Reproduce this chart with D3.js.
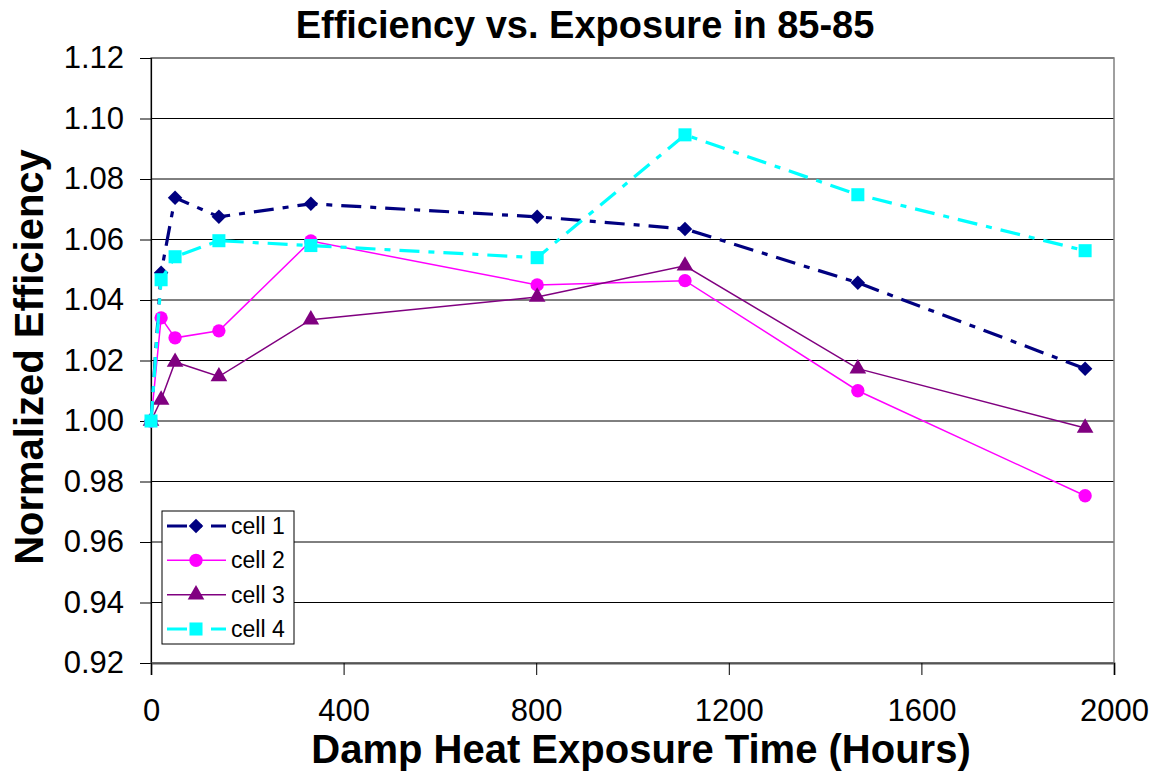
<!DOCTYPE html>
<html>
<head>
<meta charset="utf-8">
<script src="https://cdn.jsdelivr.net/npm/d3@7"></script>
<style>
  body { margin: 0; background: #fff; }
  text { font-family: "Liberation Sans", Arial, sans-serif; }
</style>
</head>
<body>
<div id="chart"></div>
<script>
// data
var hours = [0, 21, 50, 141, 332, 802, 1109, 1468, 1940];
var cell1 = [1.000, 1.049, 1.0738, 1.0675, 1.0718, 1.0675, 1.0635, 1.0457, 1.0173];
var cell2 = [1.000, 1.0341, 1.0275, 1.0298, 1.0595, 1.0450, 1.0464, 1.0100, 0.9753];
var cell3 = [1.000, 1.0070, 1.0195, 1.0147, 1.0335, 1.0410, 1.0513, 1.0173, 0.9977];
var cell4 = [1.000, 1.0467, 1.0543, 1.0596, 1.0580, 1.0540, 1.0946, 1.0748, 1.0563];
var seriesNames = ["cell 1", "cell 2", "cell 3", "cell 4"];
var yTicks = [0.92, 0.94, 0.96, 0.98, 1.00, 1.02, 1.04, 1.06, 1.08, 1.10, 1.12];
var xTicks = [0, 400, 800, 1200, 1600, 2000];

var width = 1159, height = 772;
var plotLeft = 151, plotRight = 1114, plotTop = 58, plotBottom = 663;

var svg = d3.select("#chart").append("svg")
  .attr("width", width)
  .attr("height", height);

var x = d3.scaleLinear().domain([0, 2000]).range([plotLeft, plotRight]);
var y = d3.scaleLinear().domain([0.92, 1.12]).range([plotBottom, plotTop]);

// gridlines
svg.append("g").selectAll("line")
  .data(yTicks)
  .enter().append("line")
  .attr("x1", plotLeft).attr("x2", plotRight)
  .attr("y1", function (d) { return y(d); })
  .attr("y2", function (d) { return y(d); })
  .attr("stroke", "#000")
  .attr("stroke-width", 1);

// plot border (grey)
svg.append("rect")
  .attr("x", plotLeft).attr("y", plotTop)
  .attr("width", plotRight - plotLeft).attr("height", plotBottom - plotTop)
  .attr("fill", "none")
  .attr("stroke", "#808080")
  .attr("stroke-width", 1.5);

// axes
var yAxis = d3.axisLeft(y).tickValues(yTicks).tickSize(11).tickPadding(16)
  .tickFormat(d3.format(".2f"));
var xAxis = d3.axisBottom(x).tickValues(xTicks).tickSize(12).tickPadding(24)
  .tickFormat(d3.format("d"));

var gy = svg.append("g").attr("transform", "translate(" + plotLeft + ",0)").call(yAxis);
var gx = svg.append("g").attr("transform", "translate(0," + plotBottom + ")").call(xAxis);
[gy, gx].forEach(function (g) {
  g.select(".domain").attr("stroke", "#000").attr("stroke-width", 1.2);
  g.selectAll(".tick line").attr("stroke", "#000");
  g.selectAll(".tick text")
    .attr("font-size", 31)
    .attr("fill", "#000")
    .style("font-family", "'Liberation Sans', Arial, sans-serif");
});
gx.select(".domain").attr("stroke", "#555").attr("stroke-width", 2);

// series (diamond = square turned 45deg)
var series = [
  { name: seriesNames[0], vals: cell1, color: "#000080", width: 3.2, dash: "20,9,6,9", sym: d3.symbolSquare, size: 105, rot: 45 },
  { name: seriesNames[1], vals: cell2, color: "#FF00FF", width: 1.5, dash: null, sym: d3.symbolCircle, size: 140, rot: 0 },
  { name: seriesNames[2], vals: cell3, color: "#800080", width: 1.5, dash: null, sym: d3.symbolTriangle, size: 120, rot: 0 },
  { name: seriesNames[3], vals: cell4, color: "#00FFFF", width: 3.2, dash: "20,9,6,9", sym: d3.symbolSquare, size: 170, rot: 0 }
];

var line = d3.line()
  .x(function (d) { return x(d[0]); })
  .y(function (d) { return y(d[1]); });

series.forEach(function (s) {
  var pts = hours.map(function (h, i) { return [h, s.vals[i]]; });
  svg.append("path")
    .datum(pts)
    .attr("d", line)
    .attr("fill", "none")
    .attr("stroke", s.color)
    .attr("stroke-width", s.width)
    .attr("stroke-dasharray", s.dash);
  svg.append("g").selectAll("path")
    .data(pts)
    .enter().append("path")
    .attr("d", d3.symbol().type(s.sym).size(s.size))
    .attr("transform", function (d) {
      return "translate(" + x(d[0]) + "," + y(d[1]) + ") rotate(" + s.rot + ")";
    })
    .attr("fill", s.color);
});

// legend
var legend = svg.append("g");
legend.append("rect")
  .attr("x", 162).attr("y", 511)
  .attr("width", 132).attr("height", 133)
  .attr("fill", "#fff")
  .attr("stroke", "#000")
  .attr("stroke-width", 1);
var legY = d3.scalePoint().domain(seriesNames).range([526, 629]);
series.forEach(function (s) {
  var yy = legY(s.name);
  legend.append("line")
    .attr("x1", 167).attr("x2", 226)
    .attr("y1", yy).attr("y2", yy)
    .attr("stroke", s.color)
    .attr("stroke-width", s.width)
    .attr("stroke-dasharray", s.dash);
  legend.append("path")
    .attr("d", d3.symbol().type(s.sym).size(s.size))
    .attr("transform", "translate(196," + yy + ") rotate(" + s.rot + ")")
    .attr("fill", s.color);
  legend.append("text")
    .attr("x", 231).attr("y", yy + 8)
    .attr("font-size", 23)
    .text(s.name);
});

// titles
svg.append("text")
  .attr("x", 585).attr("y", 38)
  .attr("text-anchor", "middle")
  .attr("font-size", 38)
  .attr("font-weight", "bold")
  .text("Efficiency vs. Exposure in 85-85");

svg.append("text")
  .attr("x", 641).attr("y", 763)
  .attr("text-anchor", "middle")
  .attr("font-size", 40)
  .attr("font-weight", "bold")
  .text("Damp Heat Exposure Time (Hours)");

svg.append("text")
  .attr("transform", "translate(43,357) rotate(-90)")
  .attr("text-anchor", "middle")
  .attr("font-size", 40)
  .attr("font-weight", "bold")
  .text("Normalized Efficiency");
</script>
</body>
</html>
